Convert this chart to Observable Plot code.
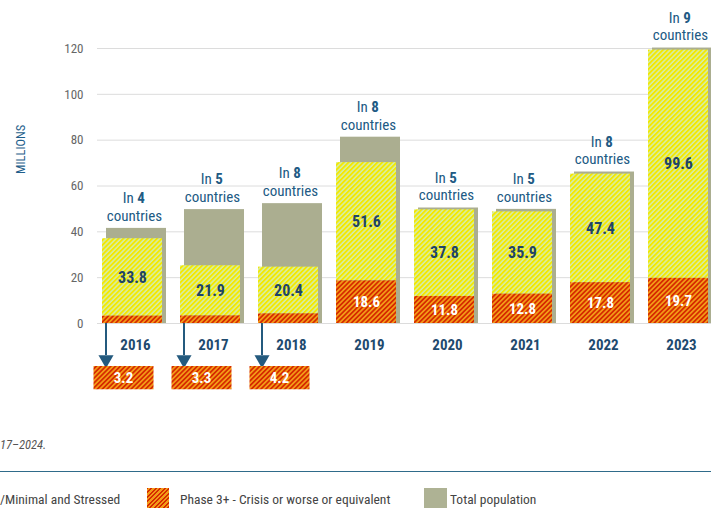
<!DOCTYPE html>
<html><head><meta charset="utf-8">
<script src="https://cdn.jsdelivr.net/npm/d3@7"></script>
<script src="https://cdn.jsdelivr.net/npm/@observablehq/plot@0.6"></script>
<style>
body{margin:0;background:#fff;width:711px;height:508px;overflow:hidden;position:relative;font-family:"Roboto Condensed","Liberation Sans Narrow","Arial Narrow","DejaVu Sans Condensed",Roboto,sans-serif;}
#chart{position:absolute;left:0;top:0;}
.note{position:absolute;left:0;top:437px;font-size:12.5px;font-style:italic;color:#555;white-space:nowrap;}
.rule{position:absolute;left:0;top:470.5px;width:711px;height:0;border-top:1.6px solid #2f6b8a;}
.leg{position:absolute;top:488px;height:22px;display:flex;align-items:center;font-size:13.5px;color:#444;white-space:nowrap;}
.sw{height:20px;display:inline-block;align-self:flex-start;}
.red{width:22px;background:repeating-linear-gradient(-45deg,#d62a00 0 1.6px,#f29a17 1.6px 3.2px);}
.grey{width:23px;background:#aeb294;}
</style></head>
<body>
<div id="chart"></div>
<div class="note">17–2024.</div>
<div class="rule"></div>
<div class="leg" style="left:0px">/Minimal and Stressed</div>
<div class="leg" style="left:147px"><span class="sw red"></span><span style="margin-left:11px">Phase 3+ - Crisis or worse or equivalent</span></div>
<div class="leg" style="left:424px"><span class="sw grey"></span><span style="margin-left:3px">Total population</span></div>
<script>
const years = ["2016","2017","2018","2019","2020","2021","2022","2023"];
const phase12 = [33.8, 21.9, 20.4, 51.6, 37.8, 35.9, 47.4, 99.6];
const phase3 = [3.2, 3.3, 4.2, 18.6, 11.8, 12.8, 17.8, 19.7];
const totalPop = [41.5, 49.7, 52.3, 81.3, 50.4, 49.8, 66.1, 120.2];
const countries = [4, 5, 8, 8, 5, 5, 8, 9];
const boxedYears = ["2016","2017","2018"];
const yTicks = [0, 20, 40, 60, 80, 100, 120];

const rows = years.map((year, i) => ({
  year, p12: phase12[i], p3: phase3[i], total: totalPop[i], n: countries[i],
  boxed: boxedYears.includes(year)
}));
const boxed = rows.filter(d => d.boxed);
const inside = rows.filter(d => !d.boxed);

const FONT = '"Roboto Condensed","Liberation Sans Narrow","Arial Narrow","DejaVu Sans Condensed",Roboto,sans-serif';
const VAL = "#1f4566";
const CTRY = "#215a84";
const YEAR = "#1e4a6e";
const ARROW = "#245a7e";

const defs = () => {
  const d = d3.create("svg:defs");
  const mk = (id, a, b, w) => {
    const p = d.append("pattern").attr("id", id).attr("patternUnits", "userSpaceOnUse")
      .attr("width", 3.4).attr("height", 3.4).attr("patternTransform", "rotate(45)");
    p.append("rect").attr("width", 3.4).attr("height", 3.4).attr("fill", b);
    p.append("rect").attr("width", w).attr("height", 3.4).attr("fill", a);
  };
  mk("hatchY", "#f3e800", "#d6eeaa", 1.9);
  mk("hatchR", "#d62a00", "#f29a17", 1.7);
  return d.node();
};

const chart = Plot.plot({
  width: 711,
  height: 400,
  marginTop: 48,
  marginBottom: 77,
  marginLeft: 97,
  marginRight: 0,
  style: {fontFamily: FONT, background: "transparent", overflow: "visible"},
  x: {type: "band", domain: years, range: [95, 719], padding: 0, axis: null},
  y: {domain: [0, 120], axis: null},
  marks: [
    defs,
    Plot.gridY(yTicks, {stroke: "#dcdcdc", strokeOpacity: 1, strokeWidth: 1}),
    Plot.axisY(yTicks, {tickSize: 0, tickPadding: 14, fill: "#666", fontSize: 13, label: null}),
    Plot.text(["MILLIONS"], {frameAnchor: "left", dx: -77, dy: -12, rotate: -90, fill: "#1f5f8b", fontSize: 12.5}),
    Plot.barY(rows, {x: "year", y1: d => 0, y2: "total", fill: "#abae90", insetLeft: 11, insetRight: 7}),
    Plot.barY(rows, {x: "year", y1: "p3", y2: d => d.p3 + d.p12, fill: "url(#hatchY)", insetLeft: 7, insetRight: 11}),
    Plot.barY(rows, {x: "year", y1: d => 0, y2: "p3", fill: "url(#hatchR)", insetLeft: 7, insetRight: 11}),
    Plot.text(rows, {x: "year", y: d => d.p3 + d.p12 / 2, text: d => d.p12.toFixed(1), dx: -2, fill: VAL, fontWeight: 700, fontSize: 16}),
    Plot.text(inside, {x: "year", y: d => d.p3 / 2, text: d => d.p3.toFixed(1), dx: -2, fill: "#fff", fontWeight: 700, fontSize: 15}),
    Plot.text(rows, {x: "year", y: d => 0, dy: 22, dx: 1, text: "year", fill: YEAR, fontWeight: 700, fontSize: 15}),
    Plot.text(rows, {x: "year", y: "total", dy: -12.5, text: d => "countries", fill: CTRY, fontSize: 15}),
    Plot.text(rows, {x: "year", y: "total", dy: -30, dx: -0.7, textAnchor: "end", text: d => "In", fill: CTRY, fontSize: 15}),
    Plot.text(rows, {x: "year", y: "total", dy: -30, dx: 2.7, textAnchor: "start", text: d => String(d.n), fill: CTRY, fontWeight: 700, fontSize: 15}),
    Plot.ruleX(boxed, {x: "year", y1: d => 0, y2: d => 0, dx: -28.5, insetBottom: -32, stroke: ARROW, strokeWidth: 2}),
    Plot.dot(boxed, {x: "year", y: d => 0, dx: -28.5, dy: 36, symbol: "triangle", r: 5.6, rotate: 180, fill: ARROW, stroke: "none"}),
    Plot.barY(boxed, {x: "year", y1: d => 0, y2: d => 0, dy: 43, insetLeft: -1.5, insetRight: 19.5, insetTop: 0, insetBottom: -23.3, fill: "url(#hatchR)"}),
    Plot.text(boxed, {x: "year", y: d => 0, dx: -11, dy: 54.7, text: d => d.p3.toFixed(1), fill: "#fff", fontWeight: 700, fontSize: 15})
  ]
});
document.getElementById("chart").appendChild(chart);
</script>
</body></html>
